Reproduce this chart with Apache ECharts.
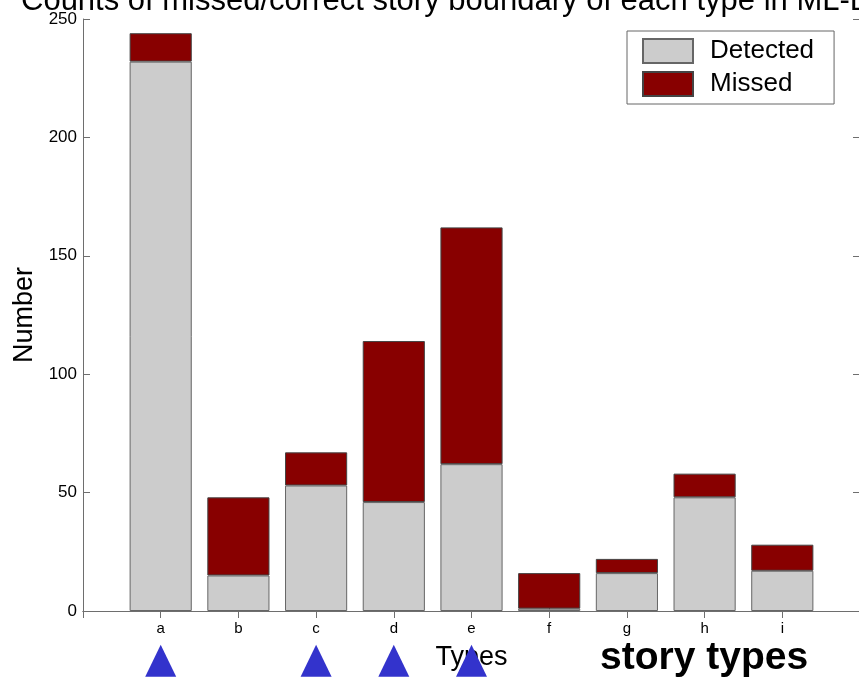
<!DOCTYPE html>
<html>
<head>
<meta charset="utf-8">
<script src="https://cdn.jsdelivr.net/npm/echarts@6/dist/echarts.min.js"></script>
<style>
html,body{margin:0;padding:0;background:#fff;}
#chart{width:859px;height:677px;}
</style>
</head>
<body>
<div id="chart"></div>
<script>
const categories = ['a','b','c','d','e','f','g','h','i'];
const detected = [232, 15, 53, 46, 62, 1, 16, 48, 17];
const missed   = [12, 33, 14, 68, 100, 15, 6, 10, 11];
const marked = ['a','c','d','e'];
const yTicks = [0, 50, 100, 150, 200, 250];
const titleText = 'Counts of missed/correct story boundary of each type in ML-BN';
const TRI_Y = -21;

const FONT = 'Liberation Sans, Arial, Helvetica, sans-serif';
const padded = [''].concat(categories, ['']);
const pad = arr => [null].concat(arr, [null]);

const chart = echarts.init(document.getElementById('chart'));
const axisColor = '#6e6e6e';
chart.setOption({
  animation: false,
  backgroundColor: '#fff',
  textStyle: { fontFamily: FONT },
  title: {
    text: titleText,
    left: 16, top: -19,
    textStyle: { fontFamily: FONT, fontSize: 31, fontWeight: 'normal', color: '#000' }
  },
  graphic: [{
    type: 'text', left: 600, top: 639,
    style: { text: 'story types', font: 'bold 39px ' + FONT, fill: '#000' }
  }],
  legend: {
    orient: 'vertical', left: 627, top: 31,
    padding: [7, 20, 7, 15],
    icon: 'rect',
    itemWidth: 50, itemHeight: 24, itemGap: 7,
    borderColor: '#666', borderWidth: 1, backgroundColor: '#fff',
    data: ['Detected', 'Missed'],
    textStyle: { fontFamily: FONT, fontSize: 26, color: '#000', padding: [0, 0, 0, 12] }
  },
  grid: { left: 83, right: -1, top: 19, bottom: 66, outerBoundsMode: 'none', containLabel: false },
  xAxis: [{
    type: 'category', data: padded, boundaryGap: false,
    name: 'Types', nameLocation: 'middle', nameGap: 33,
    nameTextStyle: { fontFamily: FONT, fontSize: 27, color: '#000' },
    axisLine: { lineStyle: { color: axisColor, width: 1 } },
    axisTick: { inside: true, length: 7, interval: 0, lineStyle: { color: axisColor } },
    axisLabel: { interval: 0, fontSize: 15, color: '#000', margin: 10 },
    splitLine: { show: false }
  }, {
    type: 'category', data: padded, boundaryGap: false, position: 'top',
    axisLine: { lineStyle: { color: axisColor, width: 1 } },
    axisTick: { inside: true, length: 7, interval: 0, lineStyle: { color: axisColor } },
    axisLabel: { show: false }, splitLine: { show: false }
  }],
  yAxis: [{
    type: 'value', min: yTicks[0], max: yTicks[yTicks.length - 1], interval: 50,
    name: 'Number', nameLocation: 'middle', nameGap: 45, nameRotate: 90,
    nameTextStyle: { fontFamily: FONT, fontSize: 27, color: '#000' },
    axisLine: { show: true, lineStyle: { color: axisColor, width: 1 } },
    axisTick: { show: true, inside: true, length: 7, lineStyle: { color: axisColor } },
    axisLabel: { fontSize: 17, color: '#000', margin: 6 },
    splitLine: { show: false }
  }, {
    type: 'value', min: yTicks[0], max: yTicks[yTicks.length - 1], interval: 50, position: 'right',
    axisLine: { show: true, lineStyle: { color: axisColor, width: 1 } },
    axisTick: { show: true, inside: true, length: 7, lineStyle: { color: axisColor } },
    axisLabel: { show: false }, splitLine: { show: false }
  }],
  series: [{
    name: 'Detected', type: 'bar', stack: 'total', barWidth: '80%',
    data: pad(detected),
    itemStyle: { color: '#cccccc', borderColor: '#666', borderWidth: 1 }
  }, {
    name: 'Missed', type: 'bar', stack: 'total', barWidth: '80%',
    data: pad(missed),
    itemStyle: { color: '#880000', borderColor: '#444', borderWidth: 1 }
  }, {
    name: 'marks', type: 'scatter', clip: false, z: 10,
    symbol: 'triangle', symbolSize: [31, 32],
    data: marked.map(c => [categories.indexOf(c) + 1, TRI_Y]),
    itemStyle: { color: '#3333cc', opacity: 1 },
    silent: true
  }]
});
</script>
</body>
</html>
